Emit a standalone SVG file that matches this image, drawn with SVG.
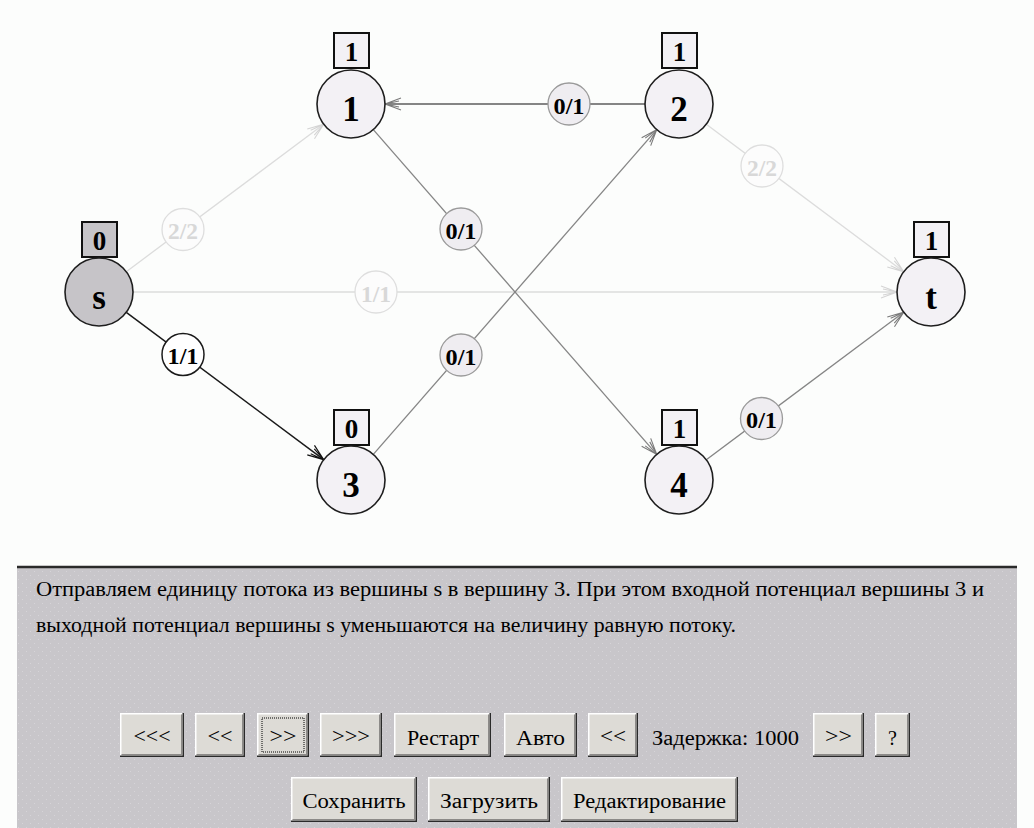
<svg xmlns="http://www.w3.org/2000/svg" width="1034" height="828" viewBox="0 0 1034 828">
<style>
.edge{fill:none}
.lt{stroke:#dcdcdc;stroke-width:1.3}
.gr{stroke:#858585;stroke-width:1.3}
.bk{stroke:#1a1a1a;stroke-width:1.5}
.node{fill:#f3f1f5;stroke:#1e1e1e;stroke-width:1.6}
.box{fill:#f3f1f5;stroke:#111;stroke-width:2}
.nlab{font-family:"Liberation Serif",serif;font-weight:bold;font-size:35px;text-anchor:middle;fill:#000}
.blab{font-family:"Liberation Serif",serif;font-weight:bold;font-size:27px;text-anchor:middle;fill:#000}
.elab{font-family:"Liberation Serif",serif;font-weight:bold;font-size:23px;text-anchor:middle}
.lc-lt{fill:#fcfcfc;stroke:#dedede;stroke-width:1.3}
.lc-gr{fill:#efedf1;stroke:#9a9a9a;stroke-width:1.3}
.lc-bk{fill:#ffffff;stroke:#1a1a1a;stroke-width:1.5}
.tx-lt{fill:#d8d8d8}
.tx-dk{fill:#000}
.ptxt{font-family:"Liberation Serif",serif;font-size:20px;fill:#000}
.btn{fill:#dddbd6}
.bhi{fill:none;stroke:#ffffff;stroke-width:1.5}
.bsh{fill:none;stroke:#2a2a2a;stroke-width:1.5}
.bsh2{fill:none;stroke:#8c8a88;stroke-width:1.5}
.btxt{font-family:"Liberation Serif",serif;font-size:20px;text-anchor:middle;fill:#000}
</style>
<defs>
<marker id="a-lt" markerUnits="userSpaceOnUse" markerWidth="20" markerHeight="16" viewBox="-18 -8 20 16" refX="0" refY="0" orient="auto">
<path d="M-16,-6 L0,0 L-16,6 M-14,-3 L0,0 L-14,3" fill="none" stroke="#d4d4d4" stroke-width="1.1"/>
</marker>
<marker id="a-gr" markerUnits="userSpaceOnUse" markerWidth="20" markerHeight="16" viewBox="-18 -8 20 16" refX="0" refY="0" orient="auto">
<path d="M-16,-6 L0,0 L-16,6 M-14,-3 L0,0 L-14,3" fill="none" stroke="#7a7a7a" stroke-width="1.1"/>
</marker>
<marker id="a-bk" markerUnits="userSpaceOnUse" markerWidth="20" markerHeight="16" viewBox="-18 -8 20 16" refX="0" refY="0" orient="auto">
<path d="M-16,-6 L0,0 L-16,6 M-14,-3 L0,0 L-14,3" fill="none" stroke="#111" stroke-width="1.2"/>
</marker>
<pattern id="dots" width="8" height="8" patternUnits="userSpaceOnUse">
<rect width="8" height="8" fill="#c8c6ca"/>
<rect x="2" y="3" width="1" height="1" fill="#d6d4d8"/>
<rect x="6" y="7" width="1" height="1" fill="#d6d4d8"/>
</pattern>
</defs>

<rect x="0" y="0" width="1034" height="828" fill="#fcfdfc"/>

<g id="connectors">
<line class="edge lt" x1="126.3" y1="271.7" x2="323.7" y2="124.3" marker-end="url(#a-lt)"/>
<line class="edge lt" x1="133" y1="292" x2="897" y2="292" marker-end="url(#a-lt)"/>
<line class="edge bk" x1="126.3" y1="312.3" x2="323.7" y2="459.7" marker-end="url(#a-bk)"/>
<line class="edge gr" style="stroke-width:2" x1="645" y1="104" x2="385" y2="104" marker-end="url(#a-gr)"/>
<line class="edge gr" x1="373.3" y1="129.6" x2="656.7" y2="454.4" marker-end="url(#a-gr)"/>
<line class="edge gr" x1="373.3" y1="454.4" x2="656.7" y2="129.6" marker-end="url(#a-gr)"/>
<line class="edge lt" x1="706.3" y1="124.3" x2="903.7" y2="271.7" marker-end="url(#a-lt)"/>
<line class="edge gr" x1="706.3" y1="459.7" x2="903.7" y2="312.3" marker-end="url(#a-gr)"/>

<g id="lbl-s1"><circle class="lc-lt" cx="183" cy="229.5" r="21"/><text class="elab tx-lt" x="183" y="239" textLength="30" lengthAdjust="spacingAndGlyphs">2/2</text></g>
<g id="lbl-st"><circle class="lc-lt" cx="376" cy="292" r="21"/><text class="elab tx-lt" x="376" y="301.5" textLength="30" lengthAdjust="spacingAndGlyphs">1/1</text></g>
<g id="lbl-s3"><circle class="lc-bk" cx="183" cy="354.5" r="21"/><text class="elab tx-dk" x="183" y="364" textLength="31" lengthAdjust="spacingAndGlyphs">1/1</text></g>
<g id="lbl-21"><circle class="lc-gr" cx="569" cy="104" r="21"/><text class="elab tx-dk" x="569" y="113.5" textLength="31" lengthAdjust="spacingAndGlyphs">0/1</text></g>
<g id="lbl-14"><circle class="lc-gr" cx="461" cy="229" r="21"/><text class="elab tx-dk" x="461" y="238.5" textLength="31" lengthAdjust="spacingAndGlyphs">0/1</text></g>
<g id="lbl-32"><circle class="lc-gr" cx="461" cy="355" r="21"/><text class="elab tx-dk" x="461" y="364.5" textLength="31" lengthAdjust="spacingAndGlyphs">0/1</text></g>
<g id="lbl-2t"><circle class="lc-lt" cx="762" cy="166" r="21"/><text class="elab tx-lt" x="762" y="175.5" textLength="30" lengthAdjust="spacingAndGlyphs">2/2</text></g>
<g id="lbl-4t"><circle class="lc-gr" cx="761.5" cy="418.5" r="21"/><text class="elab tx-dk" x="761.5" y="428" textLength="31" lengthAdjust="spacingAndGlyphs">0/1</text></g>
</g>

<g id="node-s">
<rect class="box" x="82" y="222" width="35" height="35" style="fill:#c6c4c8"/>
<text class="blab" x="99.5" y="250">0</text>
<circle class="node" cx="99" cy="292" r="34" style="fill:#c6c4c8"/>
<text class="nlab" x="99" y="309">s</text>
</g>
<g id="node-1">
<rect class="box" x="334" y="33" width="35" height="35"/>
<text class="blab" x="351.5" y="61">1</text>
<circle class="node" cx="351" cy="104" r="34"/>
<text class="nlab" x="351" y="121">1</text>
</g>
<g id="node-2">
<rect class="box" x="662" y="33" width="35" height="35"/>
<text class="blab" x="679.5" y="61">1</text>
<circle class="node" cx="679" cy="104" r="34"/>
<text class="nlab" x="679" y="121">2</text>
</g>
<g id="node-t">
<rect class="box" x="914" y="222" width="35" height="35"/>
<text class="blab" x="931.5" y="250">1</text>
<circle class="node" cx="931" cy="292" r="34"/>
<text class="nlab" x="931" y="309">t</text>
</g>
<g id="node-3">
<rect class="box" x="334" y="410" width="35" height="35"/>
<text class="blab" x="351.5" y="438">0</text>
<circle class="node" cx="351" cy="480" r="34"/>
<text class="nlab" x="351" y="497">3</text>
</g>
<g id="node-4">
<rect class="box" x="662" y="410" width="35" height="35"/>
<text class="blab" x="679.5" y="438">1</text>
<circle class="node" cx="679" cy="480" r="34"/>
<text class="nlab" x="679" y="497">4</text>
</g>

<g id="panel">
<rect x="17" y="566" width="1000" height="262" fill="url(#dots)"/>
<line x1="17" y1="567" x2="1017" y2="567" stroke="#2a2a2a" stroke-width="2.5"/>
<text class="ptxt" x="36" y="596" textLength="948" lengthAdjust="spacingAndGlyphs">Отправляем единицу потока из вершины s в вершину 3. При этом входной потенциал вершины 3 и</text>
<text class="ptxt" x="36" y="632" textLength="700" lengthAdjust="spacingAndGlyphs">выходной потенциал вершины s уменьшаются на величину равную потоку.</text>
</g>

<g id="buttons">
<g id="b1"><rect class="btn" x="120" y="713" width="64" height="44"/><polyline class="bhi" points="120.75,756 120.75,713.75 183,713.75"/><polyline class="bsh" points="120,756.25 183.25,756.25 183.25,713"/><polyline class="bsh2" points="121.5,754.75 181.75,754.75 181.75,714.5"/><text class="btxt" x="152" y="743" textLength="37" lengthAdjust="spacingAndGlyphs">&lt;&lt;&lt;</text></g>
<g id="b2"><rect class="btn" x="195" y="713" width="50" height="44"/><polyline class="bhi" points="195.75,756 195.75,713.75 244,713.75"/><polyline class="bsh" points="195,756.25 244.25,756.25 244.25,713"/><polyline class="bsh2" points="196.5,754.75 242.75,754.75 242.75,714.5"/><text class="btxt" x="220" y="743" textLength="25" lengthAdjust="spacingAndGlyphs">&lt;&lt;</text></g>
<g id="b3"><rect class="btn" x="257" y="713" width="52" height="44"/><polyline class="bhi" points="257.75,756 257.75,713.75 308,713.75"/><polyline class="bsh" points="257,756.25 308.25,756.25 308.25,713"/><polyline class="bsh2" points="258.5,754.75 306.75,754.75 306.75,714.5"/><rect x="262" y="718" width="42" height="34" fill="none" stroke="#000" stroke-width="1" stroke-dasharray="1,1"/><text class="btxt" x="283" y="743" textLength="27" lengthAdjust="spacingAndGlyphs">&gt;&gt;</text></g>
<g id="b4"><rect class="btn" x="320" y="713" width="62" height="44"/><polyline class="bhi" points="320.75,756 320.75,713.75 381,713.75"/><polyline class="bsh" points="320,756.25 381.25,756.25 381.25,713"/><polyline class="bsh2" points="321.5,754.75 379.75,754.75 379.75,714.5"/><text class="btxt" x="351" y="743" textLength="38" lengthAdjust="spacingAndGlyphs">&gt;&gt;&gt;</text></g>
<g id="b5"><rect class="btn" x="394" y="713" width="97" height="44"/><polyline class="bhi" points="394.75,756 394.75,713.75 490,713.75"/><polyline class="bsh" points="394,756.25 490.25,756.25 490.25,713"/><polyline class="bsh2" points="395.5,754.75 488.75,754.75 488.75,714.5"/><text class="btxt" x="443" y="745" textLength="72" lengthAdjust="spacingAndGlyphs">Рестарт</text></g>
<g id="b6"><rect class="btn" x="504" y="713" width="73" height="44"/><polyline class="bhi" points="504.75,756 504.75,713.75 576,713.75"/><polyline class="bsh" points="504,756.25 576.25,756.25 576.25,713"/><polyline class="bsh2" points="505.5,754.75 574.75,754.75 574.75,714.5"/><text class="btxt" x="540.5" y="745" textLength="49" lengthAdjust="spacingAndGlyphs">Авто</text></g>
<g id="b7"><rect class="btn" x="588" y="713" width="50" height="44"/><polyline class="bhi" points="588.75,756 588.75,713.75 637,713.75"/><polyline class="bsh" points="588,756.25 637.25,756.25 637.25,713"/><polyline class="bsh2" points="589.5,754.75 635.75,754.75 635.75,714.5"/><text class="btxt" x="613" y="743" textLength="26" lengthAdjust="spacingAndGlyphs">&lt;&lt;</text></g>
<text id="delay" class="btxt" x="725.5" y="745" textLength="147" lengthAdjust="spacingAndGlyphs">Задержка: 1000</text>
<g id="b8"><rect class="btn" x="813" y="713" width="51" height="44"/><polyline class="bhi" points="813.75,756 813.75,713.75 863,713.75"/><polyline class="bsh" points="813,756.25 863.25,756.25 863.25,713"/><polyline class="bsh2" points="814.5,754.75 861.75,754.75 861.75,714.5"/><text class="btxt" x="838.5" y="743" textLength="27" lengthAdjust="spacingAndGlyphs">&gt;&gt;</text></g>
<g id="b9"><rect class="btn" x="875" y="713" width="35" height="44"/><polyline class="bhi" points="875.75,756 875.75,713.75 909,713.75"/><polyline class="bsh" points="875,756.25 909.25,756.25 909.25,713"/><polyline class="bsh2" points="876.5,754.75 907.75,754.75 907.75,714.5"/><text class="btxt" x="892.5" y="745">?</text></g>
<g id="b10"><rect class="btn" x="291" y="777" width="126" height="45"/><polyline class="bhi" points="291.75,821 291.75,777.75 416,777.75"/><polyline class="bsh" points="291,821.25 416.25,821.25 416.25,777"/><polyline class="bsh2" points="292.5,819.75 414.75,819.75 414.75,778.5"/><text class="btxt" x="354" y="808" textLength="103" lengthAdjust="spacingAndGlyphs">Сохранить</text></g>
<g id="b11"><rect class="btn" x="428" y="777" width="122" height="45"/><polyline class="bhi" points="428.75,821 428.75,777.75 549,777.75"/><polyline class="bsh" points="428,821.25 549.25,821.25 549.25,777"/><polyline class="bsh2" points="429.5,819.75 547.75,819.75 547.75,778.5"/><text class="btxt" x="489" y="808" textLength="98" lengthAdjust="spacingAndGlyphs">Загрузить</text></g>
<g id="b12"><rect class="btn" x="561" y="777" width="177" height="45"/><polyline class="bhi" points="561.75,821 561.75,777.75 737,777.75"/><polyline class="bsh" points="561,821.25 737.25,821.25 737.25,777"/><polyline class="bsh2" points="562.5,819.75 735.75,819.75 735.75,778.5"/><text class="btxt" x="649.5" y="808" textLength="153" lengthAdjust="spacingAndGlyphs">Редактирование</text></g>
</g>
</svg>
